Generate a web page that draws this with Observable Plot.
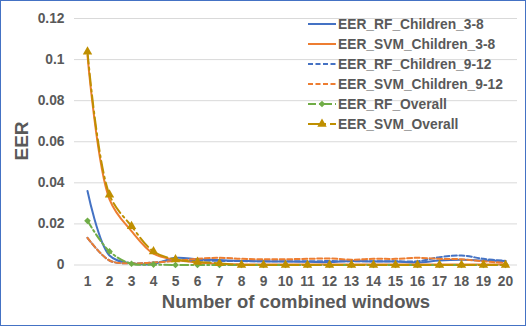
<!DOCTYPE html>
<html>
<head>
<meta charset="utf-8">
<script src="https://cdn.jsdelivr.net/npm/d3@7"></script>
<script src="https://cdn.jsdelivr.net/npm/@observablehq/plot@0.6"></script>
<style>
  html, body { margin: 0; padding: 0; background: #fff; }
  #wrap { position: relative; width: 526px; height: 326px; overflow: hidden; font-family: "Liberation Sans", Arial, sans-serif; }
  #frame { position: absolute; left: 0; top: 0; width: 526px; height: 326px; box-sizing: border-box; border: 1.5px solid #4472C4; pointer-events: none; }
  #chart { position: absolute; left: 0; top: 0; }
  .title { position: absolute; font-weight: bold; color: #595959; white-space: nowrap; }
  #legend { position: absolute; left: 308px; top: 14px; }
  .row { height: 20px; display: flex; align-items: center; font-weight: bold; font-size: 13.8px; color: #595959; white-space: nowrap; }
  .row svg { width: 30px; height: 14px; margin-right: 0px; }
</style>
</head>
<body>
<div id="wrap">
  <div id="chart"></div>
  <div class="title" id="ytitle" style="left:22px; top:141px; font-size:19px; transform: translate(-50%,-50%) rotate(-90deg);">EER</div>
  <div class="title" id="xtitle" style="left:296px; top:302px; font-size:18.5px; transform: translate(-50%,-50%);">Number of combined windows</div>
  <div id="legend"></div>
  <div id="frame"></div>
</div>
<script>
const windows = [1,2,3,4,5,6,7,8,9,10,11,12,13,14,15,16,17,18,19,20];
const yTicks = [0, 0.02, 0.04, 0.06, 0.08, 0.1, 0.12];
const seriesNames = ["EER_RF_Children_3-8","EER_SVM_Children_3-8","EER_RF_Children_9-12","EER_SVM_Children_9-12","EER_RF_Overall","EER_SVM_Overall"];

const rfChildren38   = [0.036, 0.0046, 0.0008, 0.0005, 0.0035, 0.0028, 0.0024, 0.002, 0.0018, 0.0017, 0.0016, 0.0014, 0.002, 0.0017, 0.0017, 0.0012, 0.0022, 0.0025, 0.0022, 0.002];
const svmChildren38  = [0.102, 0.032, 0.0165, 0.0055, 0.0025, 0.0012, 0.0005, 0.0003, 0.0003, 0.0003, 0.0003, 0.0003, 0.0003, 0.0003, 0.0003, 0.0003, 0.0003, 0.0003, 0.0003, 0.0003];
const rfChildren912  = [0.0132, 0.0022, 0.0008, 0.0012, 0.0022, 0.0022, 0.002, 0.0019, 0.0018, 0.0018, 0.0018, 0.0019, 0.0018, 0.0018, 0.0018, 0.0018, 0.0038, 0.0046, 0.003, 0.002];
const svmChildren912 = [0.0132, 0.0022, 0.0008, 0.0012, 0.002, 0.003, 0.0035, 0.003, 0.0028, 0.0028, 0.003, 0.0032, 0.0026, 0.003, 0.003, 0.0035, 0.003, 0.0028, 0.0018, 0.001];
const rfOverall      = [0.0215, 0.0066, 0.0006, 0.0002, 0, 0, 0, 0, 0, 0, 0, 0, 0, 0, 0, 0, 0, 0, 0, 0];
const svmOverall     = [0.1038, 0.0342, 0.0189, 0.0066, 0.0027, 0.0015, 0.0008, 0, 0, 0, 0, 0, 0, 0, 0, 0, 0, 0, 0, 0];

const seriesValues = [rfChildren38, svmChildren38, rfChildren912, svmChildren912, rfOverall, svmOverall];
const styles = [
  {stroke: "#4472C4", dash: null, symbol: null},
  {stroke: "#ED7D31", dash: null, symbol: null},
  {stroke: "#4472C4", dash: "5,2.5", symbol: null},
  {stroke: "#ED7D31", dash: "5,2.5", symbol: null},
  {stroke: "#70AD47", dash: "8,3,2,3", symbol: "diamond2", r: 3},
  {stroke: "#BF8F00", dash: "12,4,2,4", symbol: "triangle", r: 3.5}
];

const tables = seriesValues.map((vals, i) => windows.map((w, j) => ({w, v: vals[j], s: seriesNames[i]})));

const marks = [
  Plot.gridY(yTicks, {stroke: "#D9D9D9", strokeOpacity: 1, strokeWidth: 1})
];
tables.forEach((t, i) => {
  const st = styles[i];
  marks.push(Plot.line(t, {x: "w", y: "v", stroke: st.stroke, strokeWidth: 2, strokeDasharray: st.dash, curve: "catmull-rom"}));
  if (st.symbol) {
    marks.push(Plot.dot(t, {x: "w", y: "v", symbol: st.symbol, fill: st.stroke, stroke: "none", r: st.r}));
  }
});

const chart = Plot.plot({
  width: 526,
  height: 326,
  marginLeft: 74,
  marginRight: 9,
  marginTop: 18,
  marginBottom: 61.5,
  style: {fontFamily: "'Liberation Sans', Arial, sans-serif", fontWeight: "bold", fontSize: "13.8px", color: "#595959", background: "transparent", overflow: "visible"},
  x: {type: "point", domain: windows, padding: 0.5, label: null, tickSize: 0, tickPadding: 11},
  y: {domain: [0, 0.12], ticks: yTicks, label: null, tickSize: 0, tickPadding: 10, tickFormat: d => String(+d.toFixed(2))},
  marks
});
document.getElementById("chart").appendChild(chart);

// legend
const legend = document.getElementById("legend");
seriesNames.forEach((name, i) => {
  const st = styles[i];
  const row = document.createElement("div");
  row.className = "row";
  const ns = "http://www.w3.org/2000/svg";
  const svg = document.createElementNS(ns, "svg");
  svg.setAttribute("viewBox", "0 0 30 14");
  const line = document.createElementNS(ns, "line");
  line.setAttribute("x1", 0); line.setAttribute("x2", 28);
  line.setAttribute("y1", 7); line.setAttribute("y2", 7);
  line.setAttribute("stroke", st.stroke);
  line.setAttribute("stroke-width", 2);
  if (st.dash) line.setAttribute("stroke-dasharray", st.dash);
  svg.appendChild(line);
  if (st.symbol) {
    const sym = st.symbol === "triangle" ? d3.symbolTriangle : d3.symbolDiamond2;
    const size = Math.PI * st.r * st.r;
    const p = document.createElementNS(ns, "path");
    p.setAttribute("d", d3.symbol(sym, size)());
    p.setAttribute("transform", "translate(14,7)");
    p.setAttribute("fill", st.stroke);
    svg.appendChild(p);
  }
  row.appendChild(svg);
  const span = document.createElement("span");
  span.textContent = name;
  row.appendChild(span);
  legend.appendChild(row);
});
</script>
</body>
</html>
